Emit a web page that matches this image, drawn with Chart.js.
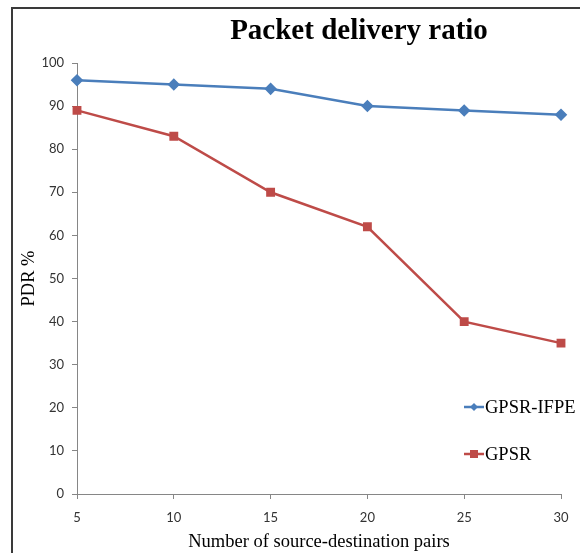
<!DOCTYPE html>
<html><head><meta charset="utf-8">
<script src="https://cdn.jsdelivr.net/npm/chart.js@4/dist/chart.umd.min.js"></script>
<style>html,body{margin:0;padding:0;background:#fff}#wrap{width:580px;height:553px}</style>
</head><body><div id="wrap"><canvas id="c" width="580" height="553"></canvas></div>
<script>
const titleText = 'Packet delivery ratio';
const categories = ['5','10','15','20','25','30'];
const gpsrIfpe = [96, 95, 94, 90, 89, 88];
const gpsr = [89, 83, 70, 62, 40, 35];
const yTicks = [0,10,20,30,40,50,60,70,80,90,100];

const framePlugin = {
  id: 'frame',
  beforeDraw(chart) {
    const ctx = chart.ctx;
    ctx.save();
    ctx.fillStyle = '#fff';
    ctx.fillRect(0,0,chart.width,chart.height);
    ctx.strokeStyle = '#3a3a3a';
    ctx.lineWidth = 2;
    ctx.beginPath();
    ctx.moveTo(12, chart.height); ctx.lineTo(12, 8); ctx.lineTo(chart.width, 8);
    ctx.stroke();
    // title
    ctx.fillStyle = '#000';
    ctx.font = 'bold 29px "Liberation Serif"';
    ctx.textAlign = 'center';
    ctx.textBaseline = 'alphabetic';
    ctx.fillText(titleText, 359, 39);
    ctx.restore();
  }
};

const legendPlugin = {
  id: 'customLegend',
  afterDraw(chart) {
    const ctx = chart.ctx;
    const a = chart.chartArea;
    const x0 = a.right - 97;
    const ys = [a.top + 344, a.top + 391];
    ctx.save();
    chart.data.datasets.forEach((ds, i) => {
      const y = ys[i];
      ctx.strokeStyle = ds.borderColor;
      ctx.lineWidth = 2.5;
      ctx.beginPath(); ctx.moveTo(x0, y); ctx.lineTo(x0 + 20, y); ctx.stroke();
      ctx.fillStyle = ds.backgroundColor;
      if (ds.pointStyle === 'rect') {
        ctx.fillRect(x0 + 10 - 4, y - 4, 8, 8);
      } else {
        ctx.beginPath();
        ctx.moveTo(x0 + 10, y - 4); ctx.lineTo(x0 + 14, y); ctx.lineTo(x0 + 10, y + 4); ctx.lineTo(x0 + 6, y);
        ctx.closePath(); ctx.fill();
      }
      ctx.fillStyle = '#000';
      ctx.font = '18.5px "Liberation Serif"';
      ctx.textBaseline = 'middle';
      ctx.textAlign = 'left';
      ctx.fillText(ds.label, x0 + 21, y + 1);
    });
    ctx.restore();
  }
};

new Chart(document.getElementById('c'), {
  type: 'line',
  data: {
    labels: categories,
    datasets: [
      { label: 'GPSR-IFPE', data: gpsrIfpe, borderColor: '#4a7ebb', backgroundColor: '#4a7ebb',
        borderWidth: 2.5, pointStyle: 'rectRot', pointRadius: 4.5, pointHoverRadius: 4.5, tension: 0 },
      { label: 'GPSR', data: gpsr, borderColor: '#be4b48', backgroundColor: '#be4b48',
        borderWidth: 2.5, pointStyle: 'rect', pointRadius: 4.5, pointHoverRadius: 4.5, tension: 0 }
    ]
  },
  options: {
    responsive: false,
    animation: false,
    events: [],
    layout: { padding: { left: 0, right: 19, top: 63, bottom: 0 } },
    plugins: {
      legend: { display: false },
      tooltip: { enabled: false },
      title: { display: false }
    },
    scales: {
      x: {
        type: 'category',
        offset: false,
        afterFit(s) { s.height = 59; },
        grid: { display: true, drawOnChartArea: false, drawTicks: true, tickLength: 5, color: '#868686' },
        border: { display: true, color: '#868686', width: 1 },
        ticks: { color: '#333', font: { family: 'Lato', size: 13 }, padding: 11, maxRotation: 0 },
        title: { display: true, text: 'Number of source-destination pairs', color: '#000',
          font: { family: '"Liberation Serif"', size: 18.5, lineHeight: 1.2 }, padding: { top: 0, bottom: 0 } }
      },
      y: {
        min: 0, max: 100,
        afterFit(s) { s.width = 77; },
        afterBuildTicks(s) { s.ticks = yTicks.map(v => ({ value: v })); },
        grid: { display: true, drawOnChartArea: false, drawTicks: true, tickLength: 5, color: '#868686' },
        border: { display: true, color: '#868686', width: 1 },
        ticks: { color: '#333', font: { family: 'Lato', size: 13 }, padding: 8 },
        title: { display: true, text: 'PDR %', color: '#000',
          font: { family: '"Liberation Serif"', size: 18.5, lineHeight: 1.2 }, padding: { top: 18, bottom: 0 } }
      }
    }
  },
  plugins: [framePlugin, legendPlugin]
});
</script>
</body></html>
